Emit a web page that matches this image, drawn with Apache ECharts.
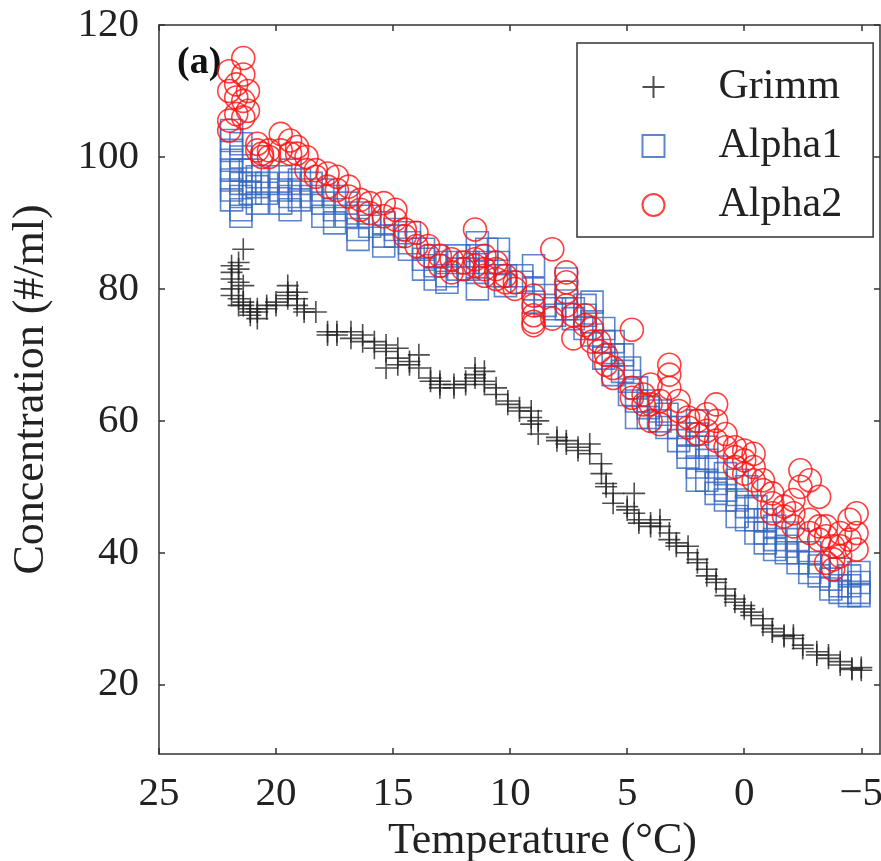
<!DOCTYPE html>
<html>
<head>
<meta charset="utf-8">
<script src="https://cdn.jsdelivr.net/npm/echarts@6/dist/echarts.min.js"></script>
<style>
html,body{margin:0;padding:0;background:#fff;}
#chart{width:881px;height:861px;}
</style>
</head>
<body>
<div id="chart"></div>
<script>
// ---- Data (temperature °C, concentration #/ml) ----
const seriesNames = ['Grimm', 'Alpha1', 'Alpha2'];
const xTicks = [25, 20, 15, 10, 5, 0, -5];
const yTicks = [20, 40, 60, 80, 100, 120];

const grimm = [
  [21.9,83.5],[21.9,82.5],[21.9,81.5],[21.9,80],[21.9,79],
  [21.6,84],[21.6,83],[21.6,81],[21.6,78.5],[21.6,77.5],
  [21.4,86],[21.4,80.5],[21.4,78],[21.4,77.5],
  [21.1,77],[21.1,76.5],[21.1,76],
  [20.8,75.5],[20.8,76.5],[20.8,77],
  [20.4,77],[20.4,77.5],
  [20.0,78],[20.0,77.5],
  [19.5,79.5],[19.5,80.5],[19.5,78.5],[19.5,79],
  [19.1,78.5],[19.1,79.5],[19.1,77.5],
  [18.8,76.5],[18.8,77],
  [18.3,76.5],
  [17.8,73.5],[17.8,73],
  [17.4,73.5],[17.4,73],
  [16.8,73.5],[16.8,72.5],
  [16.3,73],[16.3,72],
  [15.8,72],[15.8,71],
  [15.3,71.5],[15.3,70.5],[15.3,68],
  [14.8,71],[14.8,69.5],[14.8,68.5],
  [14.3,69],[14.3,68.5],
  [13.9,70],[13.9,68],
  [13.4,66.5],[13.4,66],
  [13.0,66],[13.0,65.5],[13.0,65],
  [12.4,65.5],[12.4,65],
  [11.9,66],[11.9,65.5],
  [11.5,68],[11.5,67],[11.5,66.5],
  [11.1,67.5],[11.1,66],[11.1,65.5],
  [10.6,65],[10.6,64],
  [10.1,63],[10.1,62.5],
  [9.6,62],[9.6,61.5],
  [9.1,61.5],[9.1,60.5],[9.1,59.5],
  [8.8,60],[8.8,58],
  [8.0,57.5],[8.0,57],
  [7.6,57],[7.6,56.5],
  [7.1,56],[7.1,55.5],
  [6.6,56.5],[6.6,55],
  [6.1,53.5],[6.1,52],
  [5.9,50.5],[5.9,50],
  [5.6,49],[5.6,47.5],
  [5.0,47],[5.0,46.5],
  [4.7,49],[4.7,46],
  [4.5,45],[4.5,44.5],
  [4.0,44.5],[4.0,44],
  [3.6,45],[3.6,44],
  [3.2,42],[3.2,43],
  [2.9,41.5],[2.9,41],
  [2.4,41],[2.4,40],
  [2.0,39],[2.0,38.5],
  [1.6,37.5],[1.6,36.5],
  [1.2,36],[1.2,35.5],
  [0.8,34.5],[0.8,33.5],
  [0.4,33],[0.4,32.5],
  [0.0,32],[0.0,31.5],
  [-0.3,30.5],[-0.3,31],
  [-0.8,29],[-0.8,30],
  [-1.2,28],[-1.2,28.5],
  [-1.7,27.5],[-1.7,27.3],
  [-2.1,27.5],[-2.1,27],
  [-2.5,26],[-2.5,25.5],
  [-3.1,25],[-3.1,24.5],
  [-3.6,24],[-3.6,24.5],
  [-4.1,23],[-4.1,23.5],
  [-4.6,22.5],[-4.6,22.3],
  [-5.0,22.6],[-5.0,22.2]
];

const alpha1 = [
  [21.9,104],[21.9,102.5],[21.9,101],[21.9,99.5],[21.9,98],[21.9,96.5],[21.9,95],[21.9,93.5],
  [21.5,102],[21.5,100],[21.5,98],[21.5,96],[21.5,94],[21.5,92],[21.5,91],
  [21.1,98],[21.1,96],[21.1,94.5],
  [20.8,97],[20.8,95.5],[20.8,93],
  [20.4,96],[20.4,94.5],
  [19.8,97],[19.8,95],[19.8,93],
  [19.4,98],[19.4,96],[19.4,94],[19.4,92],
  [19.0,96.5],[19.0,95],[19.0,93.5],
  [18.5,96],[18.5,94],
  [18.0,95],[18.0,93],[18.0,91],
  [17.5,94],[17.5,92],[17.5,90],
  [17.0,93],[17.0,91],
  [16.5,91.5],[16.5,89],[16.5,87.5],
  [16.0,91],[16.0,89.5],
  [15.4,90],[15.4,88],[15.4,86.5],
  [14.9,89],[14.9,88],
  [14.3,88.5],[14.3,87],[14.3,86],
  [13.7,86],[13.7,84.5],[13.7,83],
  [13.2,85],[13.2,83.5],[13.2,81.5],
  [12.7,84],[12.7,82],[12.7,81],
  [12.2,85],[12.2,83],
  [11.8,84],[11.8,83],
  [11.4,87],[11.4,85],[11.4,82.5],[11.4,80],
  [11.0,86],[11.0,84],
  [10.5,86],[10.5,84],[10.5,82],
  [10.2,82],[10.2,80.5],
  [9.5,82],[9.5,81],
  [9.0,83.5],[9.0,80],[9.0,78],
  [8.5,79],[8.5,77.5],
  [8.1,77],[8.1,76],
  [7.6,81.5],[7.6,79.5],[7.6,77],
  [7.3,77],[7.3,75.5],
  [6.8,77.5],[6.8,76],[6.8,74],
  [6.5,78],[6.5,75],[6.5,73],
  [6.0,74],[6.0,72],[6.0,69.5],
  [5.6,72],[5.6,70],[5.6,67],
  [5.2,70],[5.2,67.5],
  [4.9,68],[4.9,66],[4.9,64],
  [4.6,65],[4.6,63],[4.6,60.5],
  [4.1,63],[4.1,62],[4.1,60.5],
  [3.6,61.5],[3.6,60],
  [3.3,61],[3.3,59],
  [2.8,59],[2.8,57],
  [2.4,58],[2.4,56],[2.4,54.5],
  [2.0,60],[2.0,58],[2.0,56],[2.0,53],[2.0,51],
  [1.6,56],[1.6,54],[1.6,51],
  [1.2,53],[1.2,50.5],[1.2,49],
  [0.8,52],[0.8,49.5],[0.8,48],
  [0.3,51],[0.3,48],[0.3,45.5],
  [-0.1,50],[-0.1,47],[-0.1,45],
  [-0.5,47],[-0.5,45],[-0.5,43],
  [-0.9,45],[-0.9,43],[-0.9,41.5],
  [-1.3,44],[-1.3,42],[-1.3,40.5],
  [-1.8,43],[-1.8,41],[-1.8,40],
  [-2.3,42],[-2.3,40],[-2.3,38.5],
  [-2.8,40],[-2.8,38.5],[-2.8,37],
  [-3.2,38],[-3.2,36.5],
  [-3.7,36],[-3.7,34.5],
  [-4.1,37.5],[-4.1,35],[-4.1,34],
  [-4.5,36.5],[-4.5,35],[-4.5,33.5],
  [-4.9,37],[-4.9,35.5],[-4.9,34],[-4.9,33.5]
];

const alpha2 = [
  [22.0,113],[22.0,110],[22.0,105.5],[22.0,104],
  [21.7,111],[21.7,109],[21.7,106.5],
  [21.4,115],[21.4,112.5],[21.4,108.5],[21.4,106],
  [21.2,110],[21.2,107],
  [20.8,102],[20.8,101],
  [20.6,100.5],[20.6,100],
  [20.3,101],[20.3,100],
  [19.8,103.5],[19.8,101],
  [19.4,102.5],[19.4,100.5],
  [19.1,101.5],[19.1,100.5],
  [18.7,100],[18.7,98],
  [18.3,98],[18.3,97],
  [17.8,97.5],[17.8,95.5],
  [17.4,97],[17.4,95],
  [16.9,95.5],[16.9,94],
  [16.4,93.5],[16.4,92],
  [16.0,93],[16.0,91.5],
  [15.4,93],[15.4,91],
  [14.9,92],[14.9,90.5],
  [14.5,89],[14.5,88],
  [14.0,88.5],[14.0,86.5],
  [13.5,86.5],[13.5,85],
  [13.0,85],[13.0,83.5],
  [12.5,84.5],[12.5,82.5],
  [12.0,84],[12.0,83],
  [11.5,89],[11.5,84.5],[11.5,83.5],
  [11.1,85],[11.1,83],[11.1,82],
  [10.6,84],[10.6,83],[10.6,81.5],
  [10.2,82],[10.2,81],
  [9.8,81],[9.8,80],
  [9.0,79],[9.0,77.5],[9.0,76],[9.0,75],[9.0,74.5],
  [8.2,86],[8.2,75.5],
  [7.6,82.5],[7.6,81],[7.6,79.5],[7.6,77.5],
  [7.3,76],[7.3,72.5],
  [6.8,76],[6.8,74.5],
  [6.5,74],[6.5,72],
  [6.2,72],[6.2,70.5],
  [5.9,70],[5.9,68.5],
  [5.6,68],[5.6,66.5],
  [4.8,73.8],[4.8,65],[4.8,63.5],
  [4.3,64],[4.3,62.5],
  [4.0,65.5],[4.0,62.5],[4.0,60],
  [3.6,63],[3.6,59.5],
  [3.2,68.5],[3.2,67],[3.2,65],
  [2.8,63],[2.8,61.5],
  [2.4,60.5],[2.4,59],
  [2.0,60],[2.0,58],
  [1.6,61],[1.6,58.5],
  [1.2,62.5],[1.2,60],[1.2,57],
  [0.8,58],[0.8,56],
  [0.4,56],[0.4,54.5],[0.4,53],
  [0.0,55.5],[0.0,54],[0.0,52],
  [-0.4,55],[-0.4,53],[-0.4,51],
  [-0.8,51],[-0.8,49.5],
  [-1.2,49],[-1.2,47.5],[-1.2,46],
  [-1.7,47],[-1.7,45.5],
  [-2.1,48],[-2.1,46],[-2.1,44],
  [-2.4,52.5],[-2.4,50],
  [-2.8,51],[-2.8,45],[-2.8,43],
  [-3.2,48.5],[-3.2,44],[-3.2,42],
  [-3.5,44],[-3.5,42.5],[-3.5,38.5],
  [-3.8,41],[-3.8,39],[-3.8,37.5],
  [-4.1,43],[-4.1,41],[-4.1,39.5],
  [-4.5,45],[-4.5,42],
  [-4.8,46],[-4.8,43],[-4.8,40.5]
];

// ---- Chart ----
const FONT = '"Liberation Serif", "Times New Roman", serif';
const AX = '#333';
const plusPath = 'path://M0,10L20,10M10,0L10,20';
const squarePath = 'path://M0,0L20,0L20,20L0,20Z';

const chart = echarts.init(document.getElementById('chart'), null, {renderer: 'canvas'});

const xCommon = {
  type: 'value', inverse: true, min: -5.8, max: 25,
  axisLine: {show: true, onZero: false, lineStyle: {color: AX, width: 1.5}},
  axisTick: {show: true, inside: true, length: 6, customValues: xTicks, lineStyle: {color: AX, width: 1.5}},
  splitLine: {show: false}
};
const yCommon = {
  type: 'value', min: 9.5, max: 120,
  axisLine: {show: true, onZero: false, lineStyle: {color: AX, width: 1.5}},
  axisTick: {show: true, inside: true, length: 6, customValues: yTicks, lineStyle: {color: AX, width: 1.5}},
  splitLine: {show: false}
};

chart.setOption({
  animation: false,
  backgroundColor: '#fff',
  grid: {left: 159, right: 1, top: 25, bottom: 107, containLabel: false, outerBoundsMode: 'none'},
  xAxis: [
    Object.assign({}, xCommon, {
      position: 'bottom',
      name: 'Temperature (°C)', nameLocation: 'middle', nameGap: 64,
      nameTextStyle: {fontFamily: FONT, fontSize: 44, color: '#222', padding: [0, 0, 0, 46]},
      axisLabel: {show: true, customValues: xTicks, margin: 20, fontFamily: FONT, fontSize: 41, color: '#222',
        formatter: v => (v < 0 ? '\u2212' + Math.abs(v) : String(v))}
    }),
    Object.assign({}, xCommon, {position: 'top', axisLabel: {show: false}})
  ],
  yAxis: [
    Object.assign({}, yCommon, {
      position: 'left',
      name: 'Concentration (#/ml)', nameLocation: 'middle', nameGap: 106, nameRotate: 90,
      nameTextStyle: {fontFamily: FONT, fontSize: 44, color: '#222'},
      axisLabel: {show: true, customValues: yTicks, margin: 20, fontFamily: FONT, fontSize: 41, color: '#222'}
    }),
    Object.assign({}, yCommon, {position: 'right', axisLabel: {show: false}})
  ],
  legend: {
    show: true, orient: 'vertical', left: 577, top: 43,
    data: [
      {name: 'Grimm', icon: plusPath},
      {name: 'Alpha1', icon: squarePath},
      {name: 'Alpha2', icon: 'circle'}
    ],
    itemWidth: 120, itemHeight: 22, itemGap: 17, symbolKeepAspect: true,
    padding: [23, 31, 11, 63],
    borderColor: '#333', borderWidth: 1.5, backgroundColor: '#fff',
    textStyle: {fontFamily: FONT, fontSize: 42, color: '#222'},
    selectedMode: false
  },
  graphic: [{
    type: 'text', left: 177, top: 44,
    style: {text: '(a)', font: 'bold 38px "Liberation Serif", serif', fill: '#111'}
  }],
  series: [
    {
      name: 'Grimm', type: 'scatter', data: grimm, symbol: plusPath, symbolSize: 22,
      itemStyle: {color: 'none', borderColor: '#222', borderWidth: 1.6}
    },
    {
      name: 'Alpha1', type: 'scatter', data: alpha1, symbol: 'rect', symbolSize: 22,
      itemStyle: {color: 'none', borderColor: '#3566c0', borderWidth: 1.6}
    },
    {
      name: 'Alpha2', type: 'scatter', data: alpha2, symbol: 'circle', symbolSize: 23,
      itemStyle: {color: 'none', borderColor: '#ff1010', borderWidth: 1.6}
    }
  ]
});
</script>
</body>
</html>
